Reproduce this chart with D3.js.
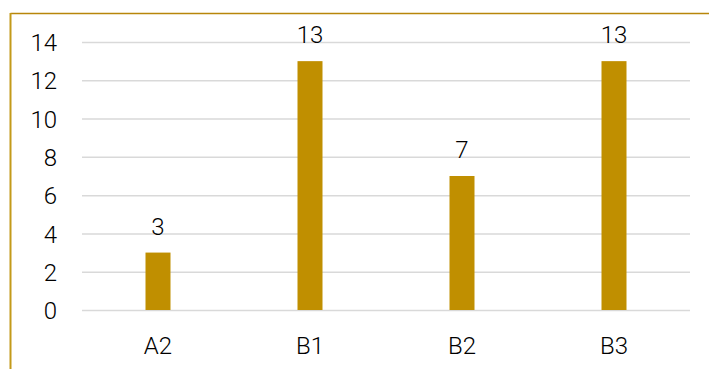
<!DOCTYPE html>
<html>
<head>
<meta charset="utf-8">
<script src="https://cdn.jsdelivr.net/npm/d3@7"></script>
<style>
  body { margin: 0; background: #fff; }
  text { font-family: Roboto, "Liberation Sans", sans-serif; font-weight: 300; fill: #000; }
</style>
</head>
<body>
<div id="chart"></div>
<script>
var categories = ["A2", "B1", "B2", "B3"];
var values = [3, 13, 7, 13];
var yTicks = [0, 2, 4, 6, 8, 10, 12, 14];

var width = 709, height = 369;
var plot = {left: 82, right: 690, top: 42, bottom: 310};

var svg = d3.select("#chart")
    .append("svg")
    .attr("width", width)
    .attr("height", height);

// frame lines (top and left)
svg.append("line")
    .attr("x1", 10.5).attr("x2", width)
    .attr("y1", 13.5).attr("y2", 13.5)
    .attr("stroke", "#b8860b").attr("stroke-width", 1.5);
svg.append("line")
    .attr("x1", 10.5).attr("x2", 10.5)
    .attr("y1", 13).attr("y2", height)
    .attr("stroke", "#c39a1a").attr("stroke-width", 2);

var x = d3.scaleBand()
    .domain(categories)
    .range([plot.left, plot.right]);

var y = d3.scaleLinear()
    .domain([0, 14])
    .range([plot.bottom, plot.top]);

// grid
var grid = svg.append("g")
    .attr("transform", "translate(" + plot.left + ",0)")
    .call(d3.axisLeft(y).tickValues(yTicks)
        .tickSize(-(plot.right - plot.left)).tickFormat(""));
grid.select(".domain").remove();
grid.selectAll(".tick line").attr("stroke", "#d9d9d9").attr("stroke-width", 1.5);

// y tick labels
var yAxis = svg.append("g")
    .attr("transform", "translate(57,0)")
    .call(d3.axisLeft(y).tickValues(yTicks).tickSize(0).tickPadding(0));
yAxis.select(".domain").remove();
yAxis.selectAll("text").style("font-size", "24px").attr("dy", "0.36em");

// x labels
var xAxis = svg.append("g")
    .attr("transform", "translate(0," + plot.bottom + ")")
    .call(d3.axisBottom(x).tickSize(0).tickPadding(0));
xAxis.select(".domain").remove();
xAxis.selectAll("text").style("font-size", "24px").attr("dy", null).attr("y", 44);

var barW = 25;

// bars
svg.selectAll("rect.bar")
    .data(values)
    .enter()
    .append("rect")
    .attr("class", "bar")
    .attr("x", function (d, i) { return x(categories[i]) + x.bandwidth() / 2 - barW / 2; })
    .attr("y", function (d) { return y(d); })
    .attr("width", barW)
    .attr("height", function (d) { return y(0) - y(d); })
    .attr("fill", "#c08f00");

// value labels
svg.selectAll("text.val")
    .data(values)
    .enter()
    .append("text")
    .attr("class", "val")
    .attr("x", function (d, i) { return x(categories[i]) + x.bandwidth() / 2; })
    .attr("y", function (d) { return y(d) - 18; })
    .attr("text-anchor", "middle")
    .style("font-size", "24px")
    .text(function (d) { return d; });
</script>
</body>
</html>
